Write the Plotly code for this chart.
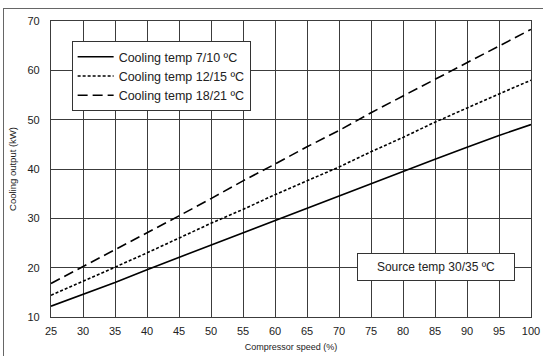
import plotly.graph_objects as go

speed = [25, 30, 35, 40, 45, 50, 55, 60, 65, 70, 75, 80, 85, 90, 95, 100]
cool_7_10 = [12.2, 14.6, 17.0, 19.6, 22.1, 24.5, 27.0, 29.6, 32.0, 34.5, 37.0, 39.5, 42.0, 44.4, 46.8, 49.0]
cool_12_15 = [14.4, 17.2, 20.1, 23.0, 26.0, 29.0, 31.8, 34.8, 37.6, 40.4, 43.5, 46.4, 49.5, 52.4, 55.2, 58.0]
cool_18_21 = [16.8, 20.2, 23.6, 27.0, 30.5, 34.0, 37.6, 41.0, 44.5, 47.8, 51.4, 54.8, 58.2, 61.6, 65.0, 68.3]
names = ["Cooling temp 7/10 ºC", "Cooling temp 12/15 ºC", "Cooling temp 18/21 ºC"]
x_ticks = list(range(25, 101, 5))
y_ticks = list(range(10, 71, 10))

FONT = "Liberation Sans, Arial, sans-serif"
fig = go.Figure()
for ys, name, dash in zip([cool_7_10, cool_12_15, cool_18_21], names,
                          ["solid", "3px,2px", "10px,5px"]):
    fig.add_trace(go.Scatter(x=speed, y=ys, mode="lines", name=name,
                             line=dict(color="black", width=1.6, dash=dash)))

grid = "#3c3c3c"
fig.update_xaxes(range=[25, 100], tickvals=x_ticks, showgrid=True, gridcolor=grid, gridwidth=1.2,
                 showline=True, linecolor=grid, linewidth=1.2, mirror=True, zeroline=False,
                 automargin=False,
                 ticks="", tickfont=dict(size=11, color="#222", family=FONT), ticklabelstandoff=4,
                 title=dict(text="Compressor speed (%)", font=dict(size=9, color="#222", family=FONT), standoff=7))
fig.update_yaxes(range=[10, 70], tickvals=y_ticks, showgrid=True, gridcolor=grid, gridwidth=1.2,
                 showline=True, linecolor=grid, linewidth=1.2, mirror=True, zeroline=False,
                 automargin=False,
                 ticks="", tickfont=dict(size=11, color="#222", family=FONT), ticklabelstandoff=8,
                 title=dict(text="Cooling output (kW)", font=dict(size=9.5, color="#222", family=FONT), standoff=9))

fig.add_annotation(x=85.2, y=20.1, xref="x", yref="y", text="Source temp 30/35 ºC", showarrow=False,
                   font=dict(size=12, color="#222", family=FONT), bgcolor="white",
                   bordercolor="#333", borderwidth=1, width=152, height=22, borderpad=2)

fig.update_layout(
    width=543, height=356, margin=dict(l=51, r=12, t=21, b=39),
    paper_bgcolor="white", plot_bgcolor="white",
    font=dict(family=FONT, color="#222"),
    legend=dict(x=0.043, y=0.932, xanchor="left", yanchor="top", bgcolor="white",
                bordercolor="#333", borderwidth=1, font=dict(size=12.5, color="#222", family=FONT),
                itemwidth=36, tracegroupgap=0),
)

# page setup: no body margin; thin outer frame (left/top edges) around the figure like the source image
post = (
    "document.body.style.margin='0';document.body.style.overflow='hidden';"
    "var f=document.createElement('div');"
    "f.style.cssText='position:absolute;left:3px;top:8px;width:700px;height:500px;"
    "border-left:1px solid #666;border-top:1px solid #666;pointer-events:none;z-index:10;';"
    "document.body.appendChild(f);"
)
fig.write_html("out.html", config={"displayModeBar": False}, post_script=post)
